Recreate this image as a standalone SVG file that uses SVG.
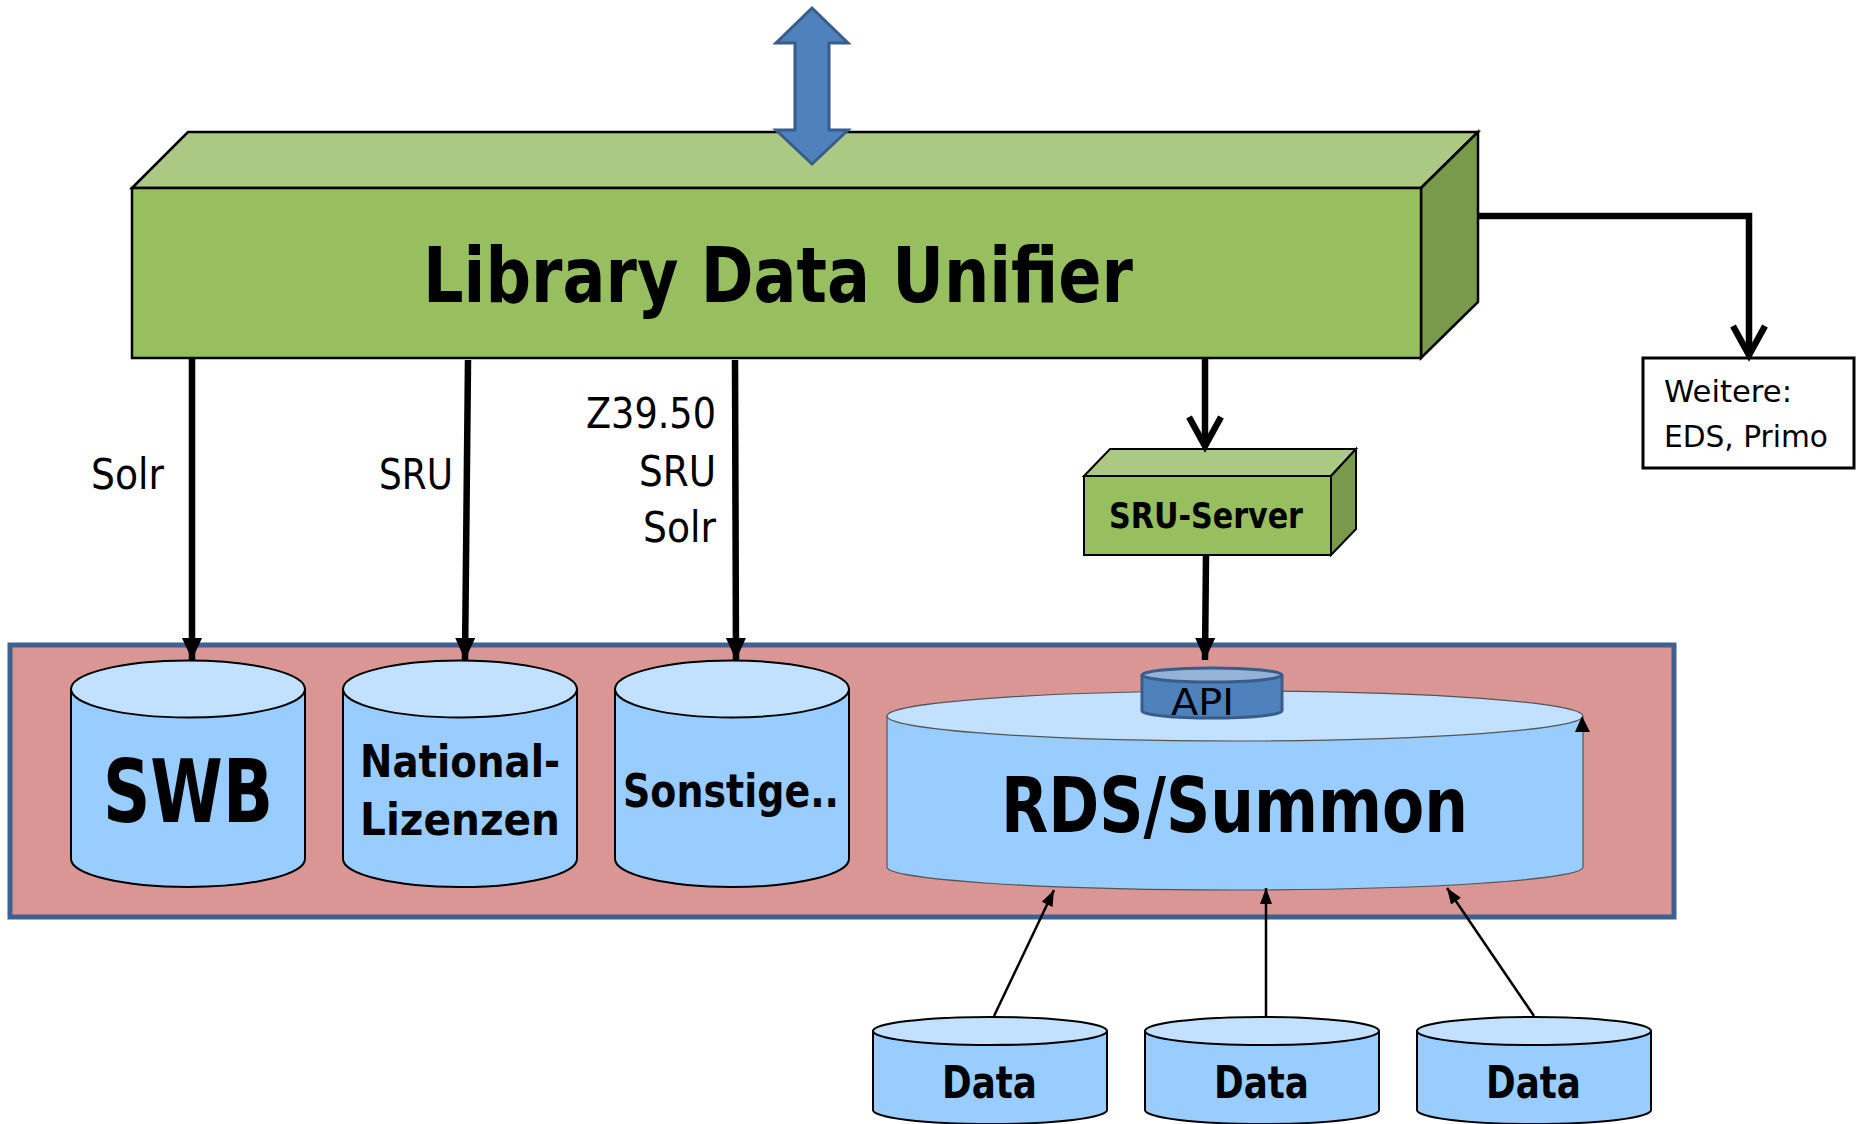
<svg xmlns="http://www.w3.org/2000/svg" width="1857" height="1124" viewBox="0 0 1857 1124">
<style>
.t{font-family:"DejaVu Sans","Liberation Sans",sans-serif;fill:#000}
.b{font-weight:bold}
.cylside{fill:#99CCFF;stroke:#000;stroke-width:2}
.cyltop{fill:#C2E0FF;stroke:#000;stroke-width:2}
.thick{stroke:#000;stroke-width:6.5;fill:none}
.thin{stroke:#000;stroke-width:2.5;fill:none}
</style>
<defs>
<marker id="fa" viewBox="0 0 22 20" refX="22" refY="10" markerWidth="22" markerHeight="20" orient="auto" markerUnits="userSpaceOnUse"><path d="M0,0 L22,10 L0,20 Z" fill="#000"/></marker>
<marker id="sa" viewBox="0 0 16 12" refX="16" refY="6" markerWidth="16" markerHeight="12" orient="auto" markerUnits="userSpaceOnUse"><path d="M0,0 L16,6 L0,12 Z" fill="#000"/></marker>
</defs>

<g id="main-box">
<polygon points="132,188 188,132 1478,132 1421,188" fill="#ABC983" stroke="#000" stroke-width="2.5"/>
<polygon points="1421,188 1478,132 1478,302 1421,358" fill="#789A4A" stroke="#000" stroke-width="2.5"/>
<rect x="132" y="188" width="1289" height="170" fill="#97BE5F" stroke="#000" stroke-width="2.5"/>
<text class="t b" x="423" y="302" font-size="77" textLength="710" lengthAdjust="spacingAndGlyphs">Library Data Unifier</text>
</g>

<g id="io-arrow">
<polygon points="812,8 848,43 829,43 829,130 848,130 812,164 776,130 795,130 795,43 776,43" fill="#4F81BD" stroke="#385D8A" stroke-width="3" stroke-linejoin="miter"/>
</g>

<g id="sru-server">
<polygon points="1084,476 1110,449 1356,449 1331,476" fill="#ABC983" stroke="#000" stroke-width="2"/>
<polygon points="1331,476 1356,449 1356,529 1331,555" fill="#789A4A" stroke="#000" stroke-width="2"/>
<rect x="1084" y="476" width="247" height="79" fill="#97BE5F" stroke="#000" stroke-width="2"/>
<text class="t b" x="1109" y="528" font-size="36" textLength="194" lengthAdjust="spacingAndGlyphs">SRU-Server</text>
</g>

<g id="weitere">
<rect x="1643" y="358" width="211" height="110" fill="#fff" stroke="#000" stroke-width="3"/>
<text class="t" x="1664" y="402" font-size="31" textLength="128" lengthAdjust="spacingAndGlyphs">Weitere:</text>
<text class="t" x="1664" y="447" font-size="31" textLength="164" lengthAdjust="spacingAndGlyphs">EDS, Primo</text>
</g>

<g id="sources">
<rect x="10" y="645" width="1664" height="272" fill="#D99694" stroke="#3F6190" stroke-width="5"/>
</g>

<g id="swb">
<path class="cylside" d="M71,689 V859 A117,28 0 0 0 305,859 V689"/>
<ellipse class="cyltop" cx="188" cy="689" rx="117" ry="28.5"/>
<text class="t b" x="103" y="822" font-size="88" textLength="170" lengthAdjust="spacingAndGlyphs">SWB</text>
</g>

<g id="nationallizenzen">
<path class="cylside" d="M343,689 V859 A117,28 0 0 0 577,859 V689"/>
<ellipse class="cyltop" cx="460" cy="689" rx="117" ry="28.5"/>
<text class="t b" x="360" y="777" font-size="45" textLength="200" lengthAdjust="spacingAndGlyphs">National-</text>
<text class="t b" x="360" y="835" font-size="45" textLength="200" lengthAdjust="spacingAndGlyphs">Lizenzen</text>
</g>

<g id="sonstige">
<path class="cylside" d="M615,689 V859 A117,28 0 0 0 849,859 V689"/>
<ellipse class="cyltop" cx="732" cy="689" rx="117" ry="28.5"/>
<text class="t b" x="623" y="807" font-size="46" textLength="216" lengthAdjust="spacingAndGlyphs">Sonstige..</text>
</g>

<g id="rds-summon">
<path d="M887,716 V867 A348,23 0 0 0 1583,867 V716" fill="#99CCFF" stroke="#555" stroke-width="1.2"/>
<ellipse cx="1235" cy="716" rx="348" ry="25" fill="#C2E0FF" stroke="#555" stroke-width="1.2"/>
<polygon points="1582,716 1590,732 1575,732" fill="#000"/>
<text class="t b" x="1001" y="832" font-size="76" textLength="467" lengthAdjust="spacingAndGlyphs">RDS/Summon</text>
</g>

<g id="api">
<path d="M1142,675 V711 A70,7 0 0 0 1282,711 V675" fill="#4F81BD" stroke="#385D8A" stroke-width="3"/>
<ellipse cx="1212" cy="675" rx="70" ry="7" fill="#95B3D7" stroke="#385D8A" stroke-width="3"/>
<text class="t" x="1171" y="715" font-size="38" textLength="63" lengthAdjust="spacingAndGlyphs">API</text>
</g>

<g id="data1">
<path class="cylside" d="M873,1031 V1110 A117,14 0 0 0 1107,1110 V1031"/>
<ellipse class="cyltop" cx="990" cy="1031" rx="117" ry="14"/>
<text class="t b" x="942" y="1098" font-size="45" textLength="95" lengthAdjust="spacingAndGlyphs">Data</text>
</g>
<g id="data2">
<path class="cylside" d="M1145,1031 V1110 A117,14 0 0 0 1379,1110 V1031"/>
<ellipse class="cyltop" cx="1262" cy="1031" rx="117" ry="14"/>
<text class="t b" x="1214" y="1098" font-size="45" textLength="95" lengthAdjust="spacingAndGlyphs">Data</text>
</g>
<g id="data3">
<path class="cylside" d="M1417,1031 V1110 A117,14 0 0 0 1651,1110 V1031"/>
<ellipse class="cyltop" cx="1534" cy="1031" rx="117" ry="14"/>
<text class="t b" x="1486" y="1098" font-size="45" textLength="95" lengthAdjust="spacingAndGlyphs">Data</text>
</g>

<g id="connectors">
<line class="thick" x1="192" y1="359" x2="192" y2="660" marker-end="url(#fa)"/>
<line class="thick" x1="468" y1="360" x2="465" y2="660" marker-end="url(#fa)"/>
<line class="thick" x1="735" y1="360" x2="736" y2="660" marker-end="url(#fa)"/>
<line class="thick" x1="1206" y1="555" x2="1205" y2="660" marker-end="url(#fa)"/>
<line class="thick" x1="1205" y1="358" x2="1205" y2="446"/>
<polyline class="thick" points="1189,417 1205,446 1221,417" stroke-linejoin="miter"/>
<polyline class="thick" points="1478,216 1749,216 1749,355"/>
<polyline class="thick" points="1733,326 1749,355 1765,326" stroke-linejoin="miter"/>
<line class="thin" x1="994" y1="1016" x2="1054" y2="890" marker-end="url(#sa)"/>
<line class="thin" x1="1266" y1="1016" x2="1266" y2="888" marker-end="url(#sa)"/>
<line class="thin" x1="1534" y1="1016" x2="1447" y2="888" marker-end="url(#sa)"/>
<text class="t" x="91" y="489" font-size="42" textLength="73" lengthAdjust="spacingAndGlyphs">Solr</text>
<text class="t" x="379" y="489" font-size="42" textLength="74" lengthAdjust="spacingAndGlyphs">SRU</text>
<text class="t" x="586" y="428" font-size="42" textLength="130" lengthAdjust="spacingAndGlyphs">Z39.50</text>
<text class="t" x="639" y="486" font-size="42" textLength="77" lengthAdjust="spacingAndGlyphs">SRU</text>
<text class="t" x="643" y="542" font-size="42" textLength="73" lengthAdjust="spacingAndGlyphs">Solr</text>
</g>
</svg>
